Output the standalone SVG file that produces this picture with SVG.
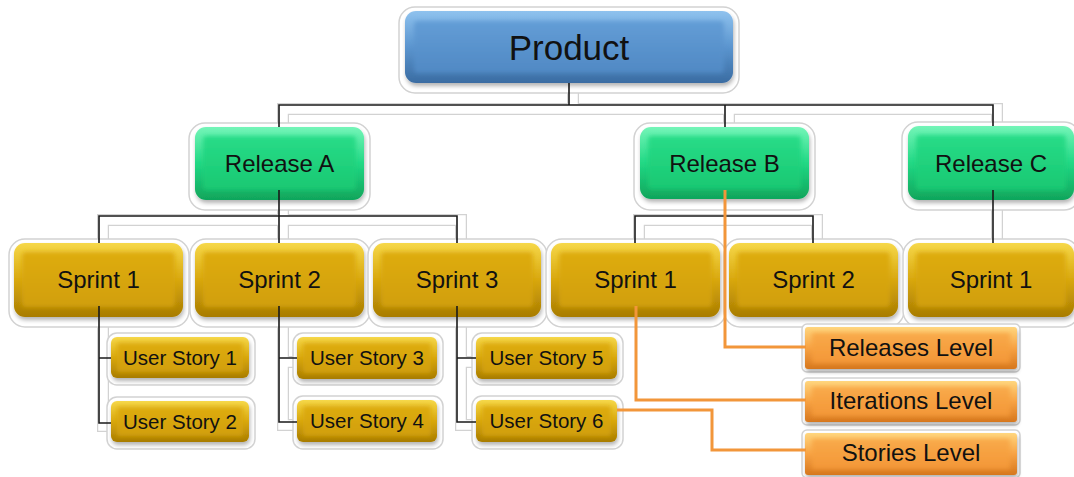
<svg xmlns="http://www.w3.org/2000/svg" width="1074" height="477" viewBox="0 0 1074 477">
  <defs>
    <linearGradient id="blueOuter" x1="0" y1="0" x2="0" y2="1">
      <stop offset="0" stop-color="#8fc2ee"/>
      <stop offset="0.5" stop-color="#5b95cf"/>
      <stop offset="1" stop-color="#3a6ca2"/>
    </linearGradient>
    <linearGradient id="blueInner" x1="0" y1="0" x2="0" y2="1">
      <stop offset="0" stop-color="#639dd6"/>
      <stop offset="1" stop-color="#5089c4"/>
    </linearGradient>
    <linearGradient id="greenOuter" x1="0" y1="0" x2="0" y2="1">
      <stop offset="0" stop-color="#74f5b8"/>
      <stop offset="0.5" stop-color="#22d884"/>
      <stop offset="1" stop-color="#10a55b"/>
    </linearGradient>
    <linearGradient id="greenInner" x1="0" y1="0" x2="0" y2="1">
      <stop offset="0" stop-color="#28dc88"/>
      <stop offset="1" stop-color="#19c872"/>
    </linearGradient>
    <linearGradient id="goldOuter" x1="0" y1="0" x2="0" y2="1">
      <stop offset="0" stop-color="#f6d849"/>
      <stop offset="0.5" stop-color="#d8a70e"/>
      <stop offset="1" stop-color="#a87c02"/>
    </linearGradient>
    <linearGradient id="goldInner" x1="0" y1="0" x2="0" y2="1">
      <stop offset="0" stop-color="#deac12"/>
      <stop offset="1" stop-color="#d19f0a"/>
    </linearGradient>
    <linearGradient id="orangeOuter" x1="0" y1="0" x2="0" y2="1">
      <stop offset="0" stop-color="#ffd67e"/>
      <stop offset="0.5" stop-color="#f7a243"/>
      <stop offset="1" stop-color="#d6771e"/>
    </linearGradient>
    <linearGradient id="orangeInner" x1="0" y1="0" x2="0" y2="1">
      <stop offset="0" stop-color="#f9aa4a"/>
      <stop offset="1" stop-color="#f39737"/>
    </linearGradient>
    <filter id="soft" x="-10%" y="-10%" width="120%" height="140%">
      <feGaussianBlur in="SourceAlpha" stdDeviation="2"/>
      <feOffset dx="1" dy="3" result="b"/>
      <feComponentTransfer><feFuncA type="linear" slope="0.3"/></feComponentTransfer>
      <feMerge><feMergeNode/><feMergeNode in="SourceGraphic"/></feMerge>
    </filter>
    <filter id="bevel" x="-10%" y="-20%" width="120%" height="140%">
      <feGaussianBlur stdDeviation="2.2"/>
    </filter>
  </defs>
  <style>
    .halo { fill: #ffffff; stroke: #d2d2d2; stroke-width: 1.5; }
    .blue .o { fill: url(#blueOuter); }
    .blue .i { fill: url(#blueInner); }
    .green .o { fill: url(#greenOuter); }
    .green .i { fill: url(#greenInner); }
    .gold .o { fill: url(#goldOuter); }
    .gold .i { fill: url(#goldInner); }
    .orange .o { fill: url(#orangeOuter); }
    .orange .i { fill: url(#orangeInner); }
    .o { filter: url(#soft); }
    .i { filter: url(#bevel); }
    text { font-family: "Liberation Sans", Arial, sans-serif; fill: #111; text-anchor: middle; }
    .t35 { font-size: 35px; }
    .t24 { font-size: 24px; }
    .t20 { font-size: 20.5px; }
    .t23 { font-size: 24px; }
    .haloOuter { fill: none; stroke: #d2d2d2; stroke-width: 12; stroke-linejoin: miter; }
    .haloInner { fill: none; stroke: #ffffff; stroke-width: 9.5; stroke-linejoin: miter; }
    .line { fill: none; stroke: #1a1a1a; stroke-width: 1.6; }
    .orangeLine { fill: none; stroke: #f2963a; stroke-width: 3; }
  </style>

  <rect width="1074" height="477" fill="#ffffff"/>

  <!-- white glow band under the tree lines -->
  <g id="connector-halo" transform="translate(4 4)">
    <path class="haloOuter" d="M569 83V105M279 126V105H993V126M725 105V126M279 200V216M99 243V216H457V243M279 216V243M635 243V216H813V243M993 200V243M99 317V422H111M99 358H111M279 317V421H297M279 358H297M457 317V421H476M457 358H476"/>
    <path class="haloInner" d="M569 83V105M279 126V105H993V126M725 105V126M279 200V216M99 243V216H457V243M279 216V243M635 243V216H813V243M993 200V243M99 317V422H111M99 358H111M279 317V421H297M279 358H297M457 317V421H476M457 358H476"/>
  </g>

  <!-- product -->
  <g id="product" class="blue">
    <rect class="halo" x="399" y="7" width="340" height="86" rx="16"/>
    <rect class="o" x="405" y="11" width="328" height="72" rx="11"/>
    <rect class="i" x="414" y="21" width="310" height="52" rx="4"/>
    <text class="t35" x="569" y="60">Product</text>
  </g>

  <!-- releases -->
  <g id="release-a" class="green">
    <rect class="halo" x="189" y="123" width="181" height="87" rx="16"/>
    <rect class="o" x="195" y="127" width="169" height="73" rx="11"/>
    <rect class="i" x="203" y="136" width="153" height="54" rx="4"/>
    <text class="t24" x="279.5" y="172">Release A</text>
  </g>
  <g id="release-b" class="green">
    <rect class="halo" x="634" y="123" width="181" height="87" rx="16"/>
    <rect class="o" x="640" y="127" width="169" height="72" rx="11"/>
    <rect class="i" x="648" y="136" width="153" height="53" rx="4"/>
    <text class="t24" x="724.5" y="172">Release B</text>
  </g>
  <g id="release-c" class="green">
    <rect class="halo" x="902" y="122" width="178" height="88" rx="16"/>
    <rect class="o" x="908" y="126" width="166" height="74" rx="11"/>
    <rect class="i" x="916" y="135" width="150" height="55" rx="4"/>
    <text class="t24" x="991" y="172">Release C</text>
  </g>

  <!-- sprints -->
  <g id="sprint-a1" class="gold">
    <rect class="halo" x="9" y="239" width="180" height="88" rx="16"/>
    <rect class="o" x="14" y="243" width="169" height="74" rx="11"/>
    <rect class="i" x="22" y="252" width="153" height="55" rx="4"/>
    <text class="t24" x="98.5" y="288">Sprint 1</text>
  </g>
  <g id="sprint-a2" class="gold">
    <rect class="halo" x="190" y="239" width="180" height="88" rx="16"/>
    <rect class="o" x="195" y="243" width="169" height="74" rx="11"/>
    <rect class="i" x="203" y="252" width="153" height="55" rx="4"/>
    <text class="t24" x="279.5" y="288">Sprint 2</text>
  </g>
  <g id="sprint-a3" class="gold">
    <rect class="halo" x="368" y="239" width="179" height="88" rx="16"/>
    <rect class="o" x="373" y="243" width="168" height="74" rx="11"/>
    <rect class="i" x="381" y="252" width="152" height="55" rx="4"/>
    <text class="t24" x="457" y="288">Sprint 3</text>
  </g>
  <g id="sprint-b1" class="gold">
    <rect class="halo" x="546" y="239" width="180" height="88" rx="16"/>
    <rect class="o" x="551" y="243" width="169" height="74" rx="11"/>
    <rect class="i" x="559" y="252" width="153" height="55" rx="4"/>
    <text class="t24" x="635.5" y="288">Sprint 1</text>
  </g>
  <g id="sprint-b2" class="gold">
    <rect class="halo" x="724" y="239" width="180" height="88" rx="16"/>
    <rect class="o" x="729" y="243" width="169" height="74" rx="11"/>
    <rect class="i" x="737" y="252" width="153" height="55" rx="4"/>
    <text class="t24" x="813.5" y="288">Sprint 2</text>
  </g>
  <g id="sprint-c1" class="gold">
    <rect class="halo" x="903" y="239" width="176" height="88" rx="16"/>
    <rect class="o" x="908" y="243" width="166" height="74" rx="11"/>
    <rect class="i" x="916" y="252" width="150" height="55" rx="4"/>
    <text class="t24" x="991" y="288">Sprint 1</text>
  </g>

  <!-- user stories -->
  <g id="story-1" class="gold">
    <rect class="halo" x="107" y="333" width="148" height="52" rx="10"/>
    <rect class="o" x="111" y="337" width="138" height="41" rx="6"/>
    <rect class="i" x="117" y="343" width="126" height="29" rx="2"/>
    <text class="t20" x="180" y="365">User Story 1</text>
  </g>
  <g id="story-2" class="gold">
    <rect class="halo" x="107" y="397" width="148" height="52" rx="10"/>
    <rect class="o" x="111" y="401" width="138" height="41" rx="6"/>
    <rect class="i" x="117" y="407" width="126" height="29" rx="2"/>
    <text class="t20" x="180" y="429">User Story 2</text>
  </g>
  <g id="story-3" class="gold">
    <rect class="halo" x="293" y="333" width="150" height="52" rx="10"/>
    <rect class="o" x="297" y="337" width="140" height="42" rx="6"/>
    <rect class="i" x="303" y="343" width="128" height="30" rx="2"/>
    <text class="t20" x="367" y="365">User Story 3</text>
  </g>
  <g id="story-4" class="gold">
    <rect class="halo" x="293" y="396" width="150" height="53" rx="10"/>
    <rect class="o" x="297" y="400" width="140" height="42" rx="6"/>
    <rect class="i" x="303" y="406" width="128" height="30" rx="2"/>
    <text class="t20" x="367" y="428">User Story 4</text>
  </g>
  <g id="story-5" class="gold">
    <rect class="halo" x="472" y="333" width="151" height="52" rx="10"/>
    <rect class="o" x="476" y="337" width="141" height="42" rx="6"/>
    <rect class="i" x="482" y="343" width="129" height="30" rx="2"/>
    <text class="t20" x="546.5" y="365">User Story 5</text>
  </g>
  <g id="story-6" class="gold">
    <rect class="halo" x="472" y="396" width="151" height="53" rx="10"/>
    <rect class="o" x="476" y="400" width="141" height="42" rx="6"/>
    <rect class="i" x="482" y="406" width="129" height="30" rx="2"/>
    <text class="t20" x="546.5" y="428">User Story 6</text>
  </g>

  <!-- level legend -->
  <g id="releases-level" class="orange">
    <rect class="halo" x="802" y="324" width="218" height="48" rx="5"/>
    <rect class="o" x="805" y="327" width="212" height="42" rx="3"/>
    <rect class="i" x="812" y="333" width="198" height="30" rx="1"/>
    <text class="t23" x="911" y="356">Releases Level</text>
  </g>
  <g id="iterations-level" class="orange">
    <rect class="halo" x="802" y="378" width="218" height="47" rx="5"/>
    <rect class="o" x="805" y="381" width="212" height="41" rx="3"/>
    <rect class="i" x="812" y="387" width="198" height="29" rx="1"/>
    <text class="t23" x="911" y="409">Iterations Level</text>
  </g>
  <g id="stories-level" class="orange">
    <rect class="halo" x="802" y="430" width="218" height="48" rx="5"/>
    <rect class="o" x="805" y="433" width="212" height="42" rx="3"/>
    <rect class="i" x="812" y="439" width="198" height="30" rx="1"/>
    <text class="t23" x="911" y="461">Stories Level</text>
  </g>

  <!-- tree lines and level pointers -->
  <g id="connectors">
    <path class="line" d="M569 83V105M279 127V105H993V126M725 105V127"/>
    <path class="line" d="M279 190V216M99 243V216H457V243M279 216V243"/>
    <path class="line" d="M725 190V216M635 243V216H813V243"/>
    <path class="line" d="M993 190V243"/>
    <path class="line" d="M99 306V423H111M99 358H111"/>
    <path class="line" d="M279 306V422H297M279 358H297"/>
    <path class="line" d="M457 306V422H476M457 358H476"/>
    <path class="orangeLine" d="M725 190V347H806"/>
    <path class="orangeLine" d="M636 306V400H806"/>
    <path class="orangeLine" d="M617 410H712V450H806"/>
  </g>
</svg>
